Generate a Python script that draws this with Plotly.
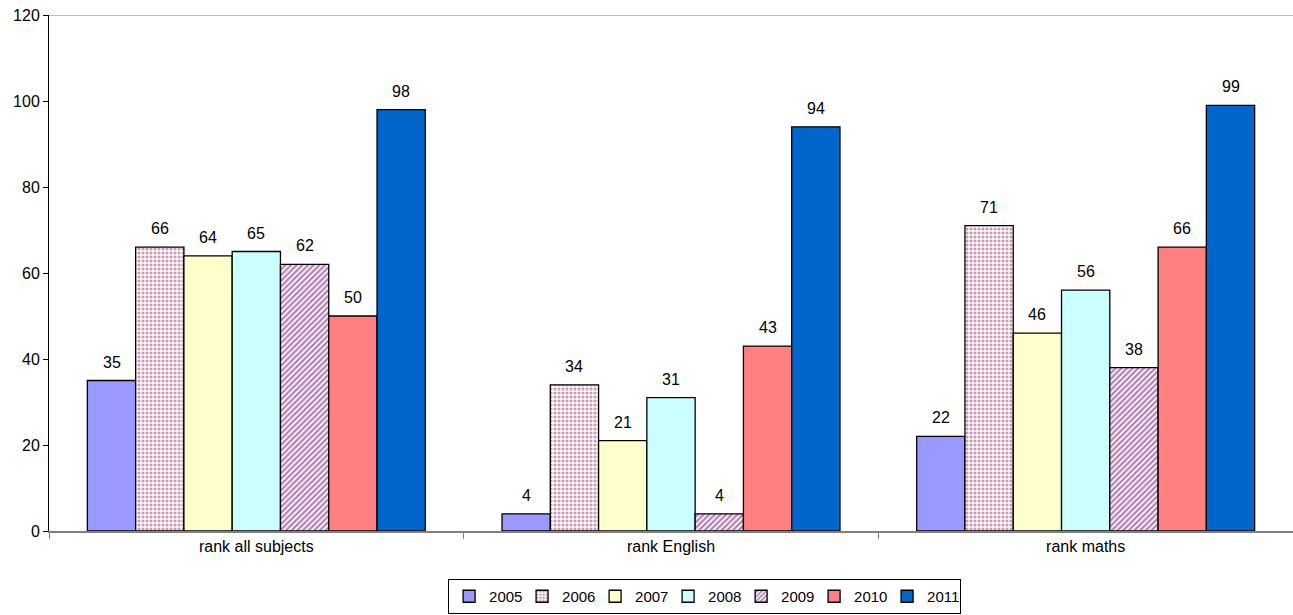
import plotly.graph_objects as go

categories = ["rank all subjects", "rank English", "rank maths"]
years = ["2005", "2006", "2007", "2008", "2009", "2010", "2011"]
values = {
    "2005": [35, 4, 22],
    "2006": [66, 34, 71],
    "2007": [64, 21, 46],
    "2008": [65, 31, 56],
    "2009": [62, 4, 38],
    "2010": [50, 43, 66],
    "2011": [98, 94, 99],
}
y_ticks = [0, 20, 40, 60, 80, 100, 120]

fills = {
    "2005": dict(color="#9999FF"),
    "2006": dict(color="#993366", pattern=dict(shape=".", bgcolor="white", fgcolor="#993366", size=4, solidity=0.5)),
    "2007": dict(color="#FFFFCC"),
    "2008": dict(color="#CCFFFF"),
    "2009": dict(color="#993399", pattern=dict(shape="/", bgcolor="white", fgcolor="#660066", size=4, solidity=0.55)),
    "2010": dict(color="#FF8080"),
    "2011": dict(color="#0066CC"),
}

FONT = "Liberation Sans, Arial, sans-serif"
BARGAP = 0.185

fig = go.Figure()
for yr in years:
    fig.add_trace(go.Bar(
        name=yr,
        x=categories,
        y=values[yr],
        marker=dict(line=dict(color="black", width=1.3), **fills[yr]),
    ))

# value labels above each bar
n = len(years)
bar_w = (1 - BARGAP) / n
for j, yr in enumerate(years):
    offset = -((1 - BARGAP) / 2) + bar_w * (j + 0.5)
    for i, v in enumerate(values[yr]):
        fig.add_annotation(
            x=i + offset, y=v, xref="x", yref="y",
            text=str(v), showarrow=False,
            yanchor="bottom", yshift=8,
            font=dict(family=FONT, size=16, color="black"),
        )

# top border of the plot area
fig.add_shape(type="line", xref="paper", yref="y", x0=0, x1=1, y0=120, y1=120,
              line=dict(color="#808080", width=1))

fig.update_layout(
    width=1293, height=615,
    margin=dict(l=49, r=0, t=15, b=84),
    paper_bgcolor="white", plot_bgcolor="white",
    barmode="group", bargap=BARGAP, bargroupgap=0,
    font=dict(family=FONT, size=16, color="black"),
    showlegend=True,
    legend=dict(
        orientation="h", x=0.527, xanchor="center", y=-0.093, yanchor="top",
        bordercolor="black", borderwidth=1,
        font=dict(family=FONT, size=15, color="black"),
        itemwidth=30, tracegroupgap=0,
        entrywidth=28, entrywidthmode="pixels",
    ),
    xaxis=dict(
        showline=True, linecolor="#808080", linewidth=1.5,
        ticks="outside", tickson="boundaries", ticklen=6, tickcolor="#808080",
        showgrid=False, tickfont=dict(size=16),
    ),
    yaxis=dict(
        range=[0, 120], tickvals=y_ticks, showline=True, linecolor="black", linewidth=1,
        ticks="outside", ticklen=5, tickcolor="black", showgrid=False, zeroline=False,
        tickfont=dict(size=16),
    ),
)

fig.write_html("out.html")
